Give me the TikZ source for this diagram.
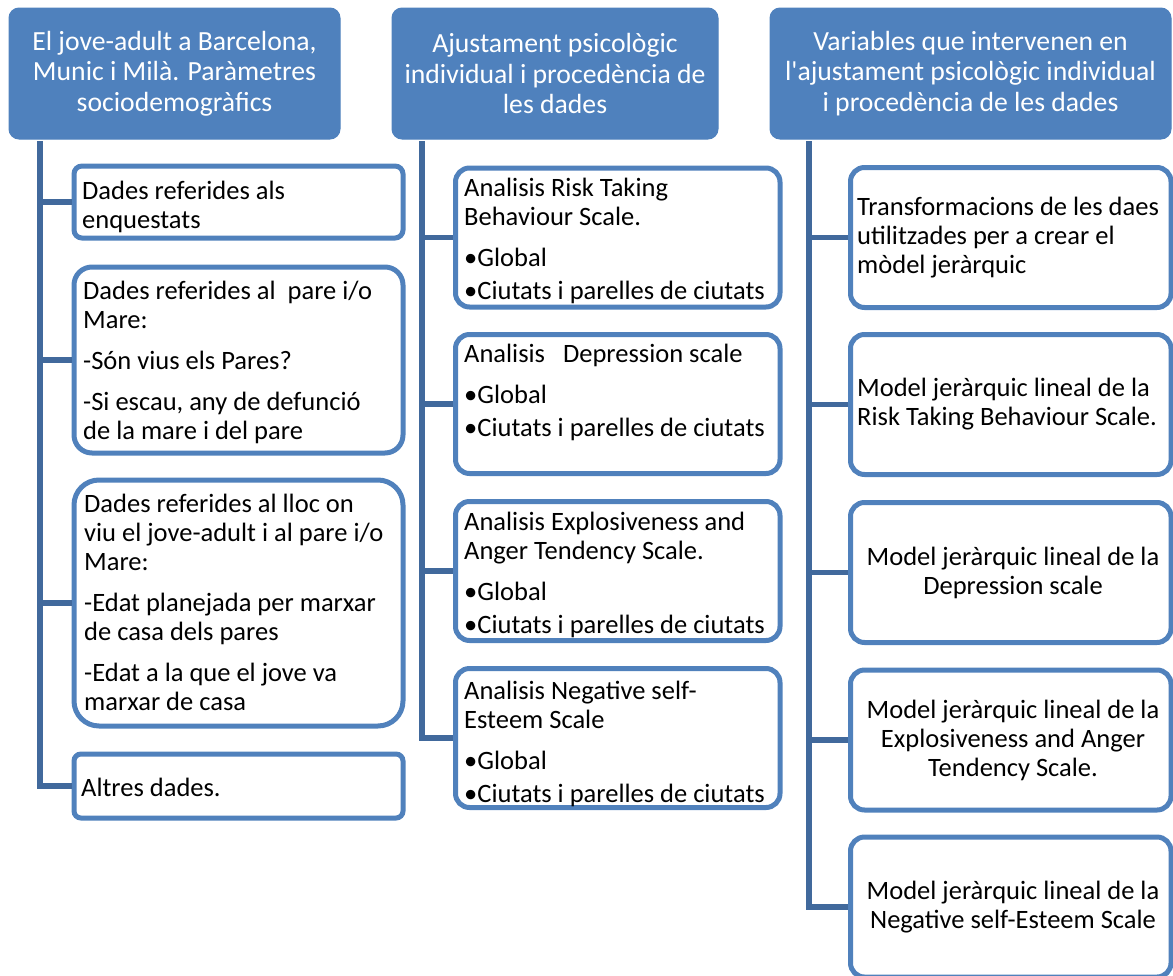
\documentclass[tikz,border=0pt]{standalone}
\usepackage{fontspec}
\setmainfont{Carlito}
\font\plainquote="Carlito" at 27.7pt
\definecolor{hdr}{HTML}{4F81BD}
\definecolor{bord}{HTML}{5081BC}
\definecolor{conn}{HTML}{41699C}
\newcommand{\childfont}{\fontsize{26.5}{29}\selectfont}
\newcommand{\headfont}{\fontsize{27.7}{30.5}\selectfont}
\tikzset{
 hbox/.style={draw=hdr, line width=1pt, fill=hdr, rounded corners=10pt, inner sep=0pt,
   text=white, font=\headfont, align=center},
 cbox/.style={draw=bord, line width=5pt, fill=white, inner sep=0pt},
 ctxt/.style={font=\childfont, align=left, inner sep=0pt, anchor=north west},
 rtxt/.style={font=\childfont, align=left, inner sep=0pt, anchor=west},
 mtxt/.style={font=\childfont, align=center, inner sep=0pt},
 connline/.style={draw=conn, line width=5.5pt},
}
\begin{document}
\begin{tikzpicture}[x=1pt,y=-1pt]
\useasboundingbox (0,0) rectangle (1173,975);
% headers
\node[hbox, minimum width=331pt, minimum height=131pt] (h1) at (174.5,73.5)
  {El jove-adult a Barcelona,\\Munic i Milà. Paràmetres\\sociodemogràfics};
\node[hbox, minimum width=326pt, minimum height=131pt] (h2) at (555,73.5)
  {Ajustament psicològic\\individual i procedència de\\les dades};
\node[hbox, minimum width=401pt, minimum height=131pt] (h3) at (970.5,73.5)
  {Variables que intervenen en\\l{\plainquote'}ajustament psicològic individual\\i procedència de les dades};
% column 1 boxes
\node[cbox, minimum width=329pt, minimum height=72pt, rounded corners=8pt] (c1a) at (238.5,202) {};
\node[cbox, minimum width=329pt, minimum height=186pt, rounded corners=18pt] (c1b) at (238.5,360) {};
\node[cbox, minimum width=329pt, minimum height=246pt, rounded corners=25pt] (c1c) at (238.5,603) {};
\node[cbox, minimum width=329pt, minimum height=64pt, rounded corners=7pt] (c1d) at (238.5,786) {};
% column 2 boxes
\node[cbox, minimum width=324.5pt, minimum height=139pt, rounded corners=14pt] (c2a) at (617.75,237.5) {};
\node[cbox, minimum width=324.5pt, minimum height=139pt, rounded corners=14pt] (c2b) at (617.75,404) {};
\node[cbox, minimum width=324.5pt, minimum height=139pt, rounded corners=14pt] (c2c) at (617.75,571) {};
\node[cbox, minimum width=324.5pt, minimum height=139pt, rounded corners=14pt] (c2d) at (617.75,738) {};
% column 3 boxes
\node[cbox, minimum width=320.5pt, minimum height=140pt, rounded corners=14pt] (c3a) at (1010.75,237.5) {};
\node[cbox, minimum width=320.5pt, minimum height=140pt, rounded corners=14pt] (c3b) at (1010.75,404.5) {};
\node[cbox, minimum width=320.5pt, minimum height=140pt, rounded corners=14pt] (c3c) at (1010.75,572.5) {};
\node[cbox, minimum width=320.5pt, minimum height=140pt, rounded corners=14pt] (c3d) at (1010.75,740) {};
\node[cbox, minimum width=320.5pt, minimum height=140pt, rounded corners=14pt] (c3e) at (1010.75,907) {};
% texts column 1
\node[ctxt] (c1at) at (82,179) {\strut Dades referides als\\enquestats};
\node[ctxt] (c1bt) at (83,279) {\strut Dades referides al\ \ pare i/o\\Mare:\\[12pt]-Són vius els Pares?\\[12pt]-Si escau, any de defunció\\de la mare i del pare};
\node[ctxt] (c1ct) at (84,492) {\strut Dades referides al lloc on\\viu el jove-adult i al pare i/o\\Mare:\\[12pt]-Edat planejada per marxar\\de casa dels pares\\[12pt]-Edat a la que el jove va\\marxar de casa};
\node[ctxt] (c1dt) at (81,776) {\strut Altres dades.};
% texts column 2
\node[ctxt] (c2at) at (464,176) {\strut Analisis Risk Taking\\Behaviour Scale.\\[12pt]•Global\\[4pt]•Ciutats i parelles de ciutats};
\node[ctxt] (c2bt) at (464,342) {\strut Analisis~~~Depression scale\\[12pt]•Global\\[4pt]•Ciutats i parelles de ciutats};
\node[ctxt] (c2ct) at (464,510) {\strut Analisis Explosiveness and\\Anger Tendency Scale.\\[12pt]•Global\\[4pt]•Ciutats i parelles de ciutats};
\node[ctxt] (c2dt) at (464,679) {\strut Analisis Negative self-\\Esteem Scale\\[12pt]•Global\\[4pt]•Ciutats i parelles de ciutats};
% texts column 3
\node[rtxt] (c3at) at (857,237.5) {Transformacions de les daes\\utilitzades per a crear el\\mòdel jeràrquic};
\node[rtxt] (c3bt) at (857,404.5) {Model jeràrquic lineal de la\\Risk Taking Behaviour Scale.};
\node[mtxt] (c3ct) at (1013,572.5) {Model jeràrquic lineal de la\\Depression scale};
\node[mtxt] (c3dt) at (1013,740) {Model jeràrquic lineal de la\\Explosiveness and Anger\\Tendency Scale.};
\node[mtxt] (c3et) at (1013,907) {Model jeràrquic lineal de la\\Negative self-Esteem Scale};
% connectors
\coordinate (t1) at (40,141);
\coordinate (t2) at (422,141);
\coordinate (t3) at (809,141);
\draw[connline] (t1) |- (c1d.west);
\draw[connline] (c1a.west -| t1) -- (c1a.west);
\draw[connline] (c1b.west -| t1) -- (c1b.west);
\draw[connline] (c1c.west -| t1) -- (c1c.west);
\draw[connline] (t2) |- (c2d.west);
\draw[connline] (c2a.west -| t2) -- (c2a.west);
\draw[connline] (c2b.west -| t2) -- (c2b.west);
\draw[connline] (c2c.west -| t2) -- (c2c.west);
\draw[connline] (t3) |- (c3e.west);
\draw[connline] (c3a.west -| t3) -- (c3a.west);
\draw[connline] (c3b.west -| t3) -- (c3b.west);
\draw[connline] (c3c.west -| t3) -- (c3c.west);
\draw[connline] (c3d.west -| t3) -- (c3d.west);
\end{tikzpicture}
\end{document}
